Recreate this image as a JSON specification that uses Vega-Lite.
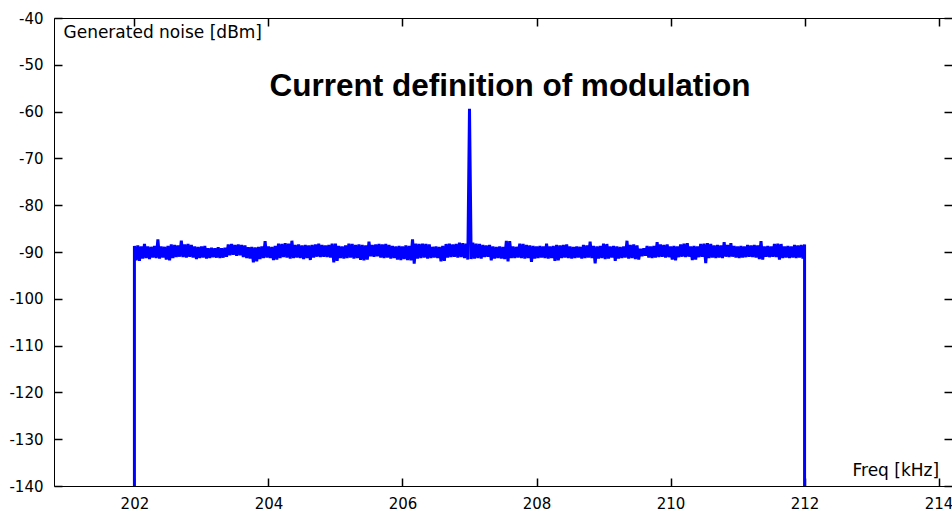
{
  "$schema": "https://vega.github.io/schema/vega-lite/v6.json",
  "width": 898,
  "height": 468,
  "autosize": {"type": "none"},
  "padding": {"left": 54, "top": 18, "right": 0, "bottom": 23},
  "background": "white",
  "config": {
    "view": {"stroke": "#000000", "strokeWidth": 1},
    "axis": {
      "grid": false,
      "domain": false,
      "tickColor": "#000000",
      "tickWidth": 1.5,
      "labelFont": "DejaVu Sans",
      "labelFontSize": 15,
      "labelColor": "#000000",
      "titleFont": "DejaVu Sans",
      "titleFontSize": 17,
      "titleFontWeight": "normal",
      "titleColor": "#000000",
      "zindex": 1
    }
  },
  "title": {
    "text": "Current definition of modulation",
    "font": "Liberation Sans",
    "fontSize": 31.5,
    "fontWeight": "bold",
    "color": "#000000",
    "anchor": "middle",
    "frame": "group",
    "baseline": "alphabetic",
    "offset": 0,
    "dy": 116,
    "dx": 7
  },
  "data": {"values": [
    {"f":202,"v":-150},
    {"f":202,"v":-88.7},{"f":202.025,"v":-91.8},
    {"f":202.05,"v":-88.6},{"f":202.075,"v":-91.9},
    {"f":202.1,"v":-88.8},{"f":202.125,"v":-91.4},
    {"f":202.15,"v":-88.3},{"f":202.175,"v":-91.3},
    {"f":202.2,"v":-88.8},{"f":202.225,"v":-91.5},
    {"f":202.25,"v":-88.9},{"f":202.275,"v":-91.2},
    {"f":202.3,"v":-88.7},{"f":202.325,"v":-91.3},
    {"f":202.35,"v":-87.3},{"f":202.375,"v":-91.4},
    {"f":202.4,"v":-88.8},{"f":202.425,"v":-91.2},
    {"f":202.45,"v":-88.9},{"f":202.475,"v":-91.6},
    {"f":202.5,"v":-88.7},{"f":202.525,"v":-91.8},
    {"f":202.55,"v":-88.4},{"f":202.575,"v":-91.3},
    {"f":202.6,"v":-88.5},{"f":202.625,"v":-91.1},
    {"f":202.65,"v":-88.6},{"f":202.675,"v":-91.0},
    {"f":202.7,"v":-87.6},{"f":202.725,"v":-91.1},
    {"f":202.75,"v":-88.4},{"f":202.775,"v":-91.2},
    {"f":202.8,"v":-88.3},{"f":202.825,"v":-91.0},
    {"f":202.85,"v":-88.5},{"f":202.875,"v":-91.2},
    {"f":202.9,"v":-88.8},{"f":202.925,"v":-91.5},
    {"f":202.95,"v":-88.9},{"f":202.975,"v":-91.3},
    {"f":203,"v":-88.8},{"f":203.025,"v":-91.2},
    {"f":203.05,"v":-88.7},{"f":203.075,"v":-91.4},
    {"f":203.1,"v":-89.2},{"f":203.125,"v":-91.3},
    {"f":203.15,"v":-89.1},{"f":203.175,"v":-91.1},
    {"f":203.2,"v":-89.2},{"f":203.225,"v":-91.2},
    {"f":203.25,"v":-89.0},{"f":203.275,"v":-91.3},
    {"f":203.3,"v":-89.2},{"f":203.325,"v":-91.2},
    {"f":203.35,"v":-89.1},{"f":203.375,"v":-91.0},
    {"f":203.4,"v":-88.4},{"f":203.425,"v":-90.7},
    {"f":203.45,"v":-88.3},{"f":203.475,"v":-90.6},
    {"f":203.5,"v":-88.5},{"f":203.525,"v":-90.8},
    {"f":203.55,"v":-88.4},{"f":203.575,"v":-90.7},
    {"f":203.6,"v":-88.5},{"f":203.625,"v":-91.1},
    {"f":203.65,"v":-88.6},{"f":203.675,"v":-91.3},
    {"f":203.7,"v":-89.0},{"f":203.725,"v":-91.4},
    {"f":203.75,"v":-88.9},{"f":203.775,"v":-92.2},
    {"f":203.8,"v":-89.0},{"f":203.825,"v":-92.0},
    {"f":203.85,"v":-88.9},{"f":203.875,"v":-91.5},
    {"f":203.9,"v":-88.8},{"f":203.925,"v":-91.3},
    {"f":203.95,"v":-87.7},{"f":203.975,"v":-91.2},
    {"f":204,"v":-88.8},{"f":204.025,"v":-91.3},
    {"f":204.05,"v":-88.9},{"f":204.075,"v":-91.7},
    {"f":204.1,"v":-88.7},{"f":204.125,"v":-91.6},
    {"f":204.15,"v":-88.2},{"f":204.175,"v":-91.3},
    {"f":204.2,"v":-88.3},{"f":204.225,"v":-91.1},
    {"f":204.25,"v":-88.1},{"f":204.275,"v":-91.2},
    {"f":204.3,"v":-88.2},{"f":204.325,"v":-91.4},
    {"f":204.35,"v":-87.6},{"f":204.375,"v":-91.3},
    {"f":204.4,"v":-88.5},{"f":204.425,"v":-91.2},
    {"f":204.45,"v":-88.4},{"f":204.475,"v":-91.3},
    {"f":204.5,"v":-88.6},{"f":204.525,"v":-91.5},
    {"f":204.55,"v":-88.5},{"f":204.575,"v":-91.3},
    {"f":204.6,"v":-88.6},{"f":204.625,"v":-91.7},
    {"f":204.65,"v":-88.5},{"f":204.675,"v":-91.2},
    {"f":204.7,"v":-88.4},{"f":204.725,"v":-91.0},
    {"f":204.75,"v":-88.2},{"f":204.775,"v":-91.1},
    {"f":204.8,"v":-88.5},{"f":204.825,"v":-91.0},
    {"f":204.85,"v":-88.6},{"f":204.875,"v":-91.1},
    {"f":204.9,"v":-88.5},{"f":204.925,"v":-91.2},
    {"f":204.95,"v":-88.2},{"f":204.975,"v":-92.2},
    {"f":205,"v":-88.2},{"f":205.025,"v":-91.9},
    {"f":205.05,"v":-88.7},{"f":205.075,"v":-91.3},
    {"f":205.1,"v":-88.8},{"f":205.125,"v":-91.4},
    {"f":205.15,"v":-88.6},{"f":205.175,"v":-91.3},
    {"f":205.2,"v":-88.2},{"f":205.225,"v":-91.2},
    {"f":205.25,"v":-88.3},{"f":205.275,"v":-91.4},
    {"f":205.3,"v":-88.5},{"f":205.325,"v":-91.3},
    {"f":205.35,"v":-88.4},{"f":205.375,"v":-91.7},
    {"f":205.4,"v":-88.5},{"f":205.425,"v":-91.8},
    {"f":205.45,"v":-88.6},{"f":205.475,"v":-91.6},
    {"f":205.5,"v":-87.8},{"f":205.525,"v":-90.9},
    {"f":205.55,"v":-88.5},{"f":205.575,"v":-91.0},
    {"f":205.6,"v":-88.4},{"f":205.625,"v":-90.9},
    {"f":205.65,"v":-88.3},{"f":205.675,"v":-91.2},
    {"f":205.7,"v":-88.4},{"f":205.725,"v":-91.3},
    {"f":205.75,"v":-88.3},{"f":205.775,"v":-91.2},
    {"f":205.8,"v":-88.5},{"f":205.825,"v":-91.4},
    {"f":205.85,"v":-88.7},{"f":205.875,"v":-91.3},
    {"f":205.9,"v":-88.8},{"f":205.925,"v":-91.6},
    {"f":205.95,"v":-88.7},{"f":205.975,"v":-91.7},
    {"f":206,"v":-88.8},{"f":206.025,"v":-91.5},
    {"f":206.05,"v":-88.6},{"f":206.075,"v":-91.7},
    {"f":206.1,"v":-88.7},{"f":206.125,"v":-91.8},
    {"f":206.15,"v":-87.3},{"f":206.175,"v":-92.5},
    {"f":206.2,"v":-88.2},{"f":206.225,"v":-91.4},
    {"f":206.25,"v":-88.3},{"f":206.275,"v":-91.3},
    {"f":206.3,"v":-88.2},{"f":206.325,"v":-91.2},
    {"f":206.35,"v":-88.3},{"f":206.375,"v":-91.4},
    {"f":206.4,"v":-88.4},{"f":206.425,"v":-91.3},
    {"f":206.45,"v":-88.9},{"f":206.475,"v":-91.2},
    {"f":206.5,"v":-88.8},{"f":206.525,"v":-91.3},
    {"f":206.55,"v":-88.9},{"f":206.575,"v":-92.0},
    {"f":206.6,"v":-88.7},{"f":206.625,"v":-91.9},
    {"f":206.65,"v":-88.3},{"f":206.675,"v":-91.2},
    {"f":206.7,"v":-88.2},{"f":206.725,"v":-91.1},
    {"f":206.75,"v":-88.4},{"f":206.775,"v":-91.0},
    {"f":206.8,"v":-88.3},{"f":206.825,"v":-91.2},
    {"f":206.85,"v":-88.0},{"f":206.875,"v":-91.1},
    {"f":206.9,"v":-88.1},{"f":206.925,"v":-91.3},
    {"f":206.95,"v":-88.2},{"f":206.975,"v":-91.6},
    {"f":207,"v":-59.4},{"f":207.025,"v":-91.5},
    {"f":207.05,"v":-88.0},{"f":207.075,"v":-91.4},
    {"f":207.1,"v":-88.2},{"f":207.125,"v":-91.3},
    {"f":207.15,"v":-88.3},{"f":207.175,"v":-91.4},
    {"f":207.2,"v":-88.5},{"f":207.225,"v":-91.1},
    {"f":207.25,"v":-88.6},{"f":207.275,"v":-91.0},
    {"f":207.3,"v":-88.5},{"f":207.325,"v":-91.8},
    {"f":207.35,"v":-88.8},{"f":207.375,"v":-91.4},
    {"f":207.4,"v":-88.9},{"f":207.425,"v":-91.3},
    {"f":207.45,"v":-88.8},{"f":207.475,"v":-91.4},
    {"f":207.5,"v":-88.9},{"f":207.525,"v":-91.5},
    {"f":207.55,"v":-87.6},{"f":207.575,"v":-92.0},
    {"f":207.6,"v":-87.7},{"f":207.625,"v":-91.3},
    {"f":207.65,"v":-88.8},{"f":207.675,"v":-91.3},
    {"f":207.7,"v":-88.9},{"f":207.725,"v":-91.2},
    {"f":207.75,"v":-88.2},{"f":207.775,"v":-91.3},
    {"f":207.8,"v":-88.3},{"f":207.825,"v":-91.4},
    {"f":207.85,"v":-88.5},{"f":207.875,"v":-91.3},
    {"f":207.9,"v":-88.6},{"f":207.925,"v":-92.1},
    {"f":207.95,"v":-88.7},{"f":207.975,"v":-91.4},
    {"f":208,"v":-88.8},{"f":208.025,"v":-91.3},
    {"f":208.05,"v":-88.7},{"f":208.075,"v":-91.2},
    {"f":208.1,"v":-88.8},{"f":208.125,"v":-91.3},
    {"f":208.15,"v":-88.2},{"f":208.175,"v":-91.4},
    {"f":208.2,"v":-88.8},{"f":208.225,"v":-91.3},
    {"f":208.25,"v":-88.7},{"f":208.275,"v":-91.9},
    {"f":208.3,"v":-88.5},{"f":208.325,"v":-91.8},
    {"f":208.35,"v":-88.6},{"f":208.375,"v":-91.3},
    {"f":208.4,"v":-88.5},{"f":208.425,"v":-91.2},
    {"f":208.45,"v":-88.4},{"f":208.475,"v":-91.3},
    {"f":208.5,"v":-88.8},{"f":208.525,"v":-91.4},
    {"f":208.55,"v":-88.9},{"f":208.575,"v":-91.3},
    {"f":208.6,"v":-88.8},{"f":208.625,"v":-91.2},
    {"f":208.65,"v":-88.9},{"f":208.675,"v":-91.4},
    {"f":208.7,"v":-88.5},{"f":208.725,"v":-91.3},
    {"f":208.75,"v":-88.6},{"f":208.775,"v":-91.2},
    {"f":208.8,"v":-87.8},{"f":208.825,"v":-91.3},
    {"f":208.85,"v":-88.7},{"f":208.875,"v":-92.4},
    {"f":208.9,"v":-88.8},{"f":208.925,"v":-91.4},
    {"f":208.95,"v":-88.7},{"f":208.975,"v":-91.3},
    {"f":209,"v":-88.2},{"f":209.025,"v":-91.5},
    {"f":209.05,"v":-88.3},{"f":209.075,"v":-91.4},
    {"f":209.1,"v":-88.8},{"f":209.125,"v":-91.2},
    {"f":209.15,"v":-88.7},{"f":209.175,"v":-91.9},
    {"f":209.2,"v":-88.8},{"f":209.225,"v":-91.4},
    {"f":209.25,"v":-88.9},{"f":209.275,"v":-91.3},
    {"f":209.3,"v":-88.8},{"f":209.325,"v":-91.2},
    {"f":209.35,"v":-87.6},{"f":209.375,"v":-91.4},
    {"f":209.4,"v":-88.5},{"f":209.425,"v":-91.3},
    {"f":209.45,"v":-88.4},{"f":209.475,"v":-91.5},
    {"f":209.5,"v":-88.6},{"f":209.525,"v":-91.6},
    {"f":209.55,"v":-89.3},{"f":209.575,"v":-90.9},
    {"f":209.6,"v":-89.2},{"f":209.625,"v":-90.8},
    {"f":209.65,"v":-88.7},{"f":209.675,"v":-91.2},
    {"f":209.7,"v":-88.8},{"f":209.725,"v":-91.3},
    {"f":209.75,"v":-88.7},{"f":209.775,"v":-91.2},
    {"f":209.8,"v":-87.9},{"f":209.825,"v":-91.1},
    {"f":209.85,"v":-88.4},{"f":209.875,"v":-91.0},
    {"f":209.9,"v":-88.5},{"f":209.925,"v":-91.2},
    {"f":209.95,"v":-88.4},{"f":209.975,"v":-91.1},
    {"f":210,"v":-88.8},{"f":210.025,"v":-91.6},
    {"f":210.05,"v":-88.7},{"f":210.075,"v":-91.8},
    {"f":210.1,"v":-88.8},{"f":210.125,"v":-91.1},
    {"f":210.15,"v":-88.4},{"f":210.175,"v":-91.0},
    {"f":210.2,"v":-88.2},{"f":210.225,"v":-91.1},
    {"f":210.25,"v":-88.1},{"f":210.275,"v":-91.0},
    {"f":210.3,"v":-88.8},{"f":210.325,"v":-91.7},
    {"f":210.35,"v":-88.7},{"f":210.375,"v":-91.6},
    {"f":210.4,"v":-88.8},{"f":210.425,"v":-91.1},
    {"f":210.45,"v":-88.3},{"f":210.475,"v":-91.0},
    {"f":210.5,"v":-88.2},{"f":210.525,"v":-92.4},
    {"f":210.55,"v":-88.1},{"f":210.575,"v":-91.3},
    {"f":210.6,"v":-88.3},{"f":210.625,"v":-91.2},
    {"f":210.65,"v":-88.6},{"f":210.675,"v":-91.3},
    {"f":210.7,"v":-88.5},{"f":210.725,"v":-91.2},
    {"f":210.75,"v":-88.6},{"f":210.775,"v":-91.3},
    {"f":210.8,"v":-87.9},{"f":210.825,"v":-91.0},
    {"f":210.85,"v":-88.5},{"f":210.875,"v":-91.1},
    {"f":210.9,"v":-88.1},{"f":210.925,"v":-91.0},
    {"f":210.95,"v":-88.7},{"f":210.975,"v":-91.2},
    {"f":211,"v":-88.8},{"f":211.025,"v":-91.3},
    {"f":211.05,"v":-88.7},{"f":211.075,"v":-91.2},
    {"f":211.1,"v":-88.8},{"f":211.125,"v":-91.1},
    {"f":211.15,"v":-88.5},{"f":211.175,"v":-91.0},
    {"f":211.2,"v":-88.6},{"f":211.225,"v":-91.1},
    {"f":211.25,"v":-88.5},{"f":211.275,"v":-91.2},
    {"f":211.3,"v":-88.6},{"f":211.325,"v":-91.5},
    {"f":211.35,"v":-87.7},{"f":211.375,"v":-91.6},
    {"f":211.4,"v":-88.8},{"f":211.425,"v":-91.0},
    {"f":211.45,"v":-88.7},{"f":211.475,"v":-91.1},
    {"f":211.5,"v":-88.8},{"f":211.525,"v":-91.0},
    {"f":211.55,"v":-88.3},{"f":211.575,"v":-91.1},
    {"f":211.6,"v":-88.2},{"f":211.625,"v":-91.6},
    {"f":211.65,"v":-88.3},{"f":211.675,"v":-91.3},
    {"f":211.7,"v":-88.8},{"f":211.725,"v":-91.2},
    {"f":211.75,"v":-88.7},{"f":211.775,"v":-91.3},
    {"f":211.8,"v":-88.8},{"f":211.825,"v":-91.2},
    {"f":211.85,"v":-88.5},{"f":211.875,"v":-91.3},
    {"f":211.9,"v":-88.6},{"f":211.925,"v":-91.2},
    {"f":211.95,"v":-88.5},{"f":211.975,"v":-91.4},
    {"f":212,"v":-88.4},
    {"f":212,"v":-150}
  ]},
  "layer": [
    {
      "mark": {"type": "line", "color": "#0000ff", "strokeWidth": 3, "strokeJoin": "bevel", "clip": true},
      "encoding": {
        "x": {
          "field": "f", "type": "quantitative",
          "scale": {"domain": [200.8, 214.2], "nice": false, "zero": false},
          "axis": {
            "orient": "bottom",
            "values": [202, 204, 206, 208, 210, 212, 214],
            "tickSize": -8,
            "labelPadding": 18,
            "labelBaseline": "top",
            "labelFlush": false,
            "labelExpr": "'' + datum.value",
            "title": "Freq [kHz]",
            "titleX": 798,
            "titleY": -11,
            "titleAlign": "left",
            "titleBaseline": "alphabetic",
            "titleAnchor": null
          }
        },
        "y": {
          "field": "v", "type": "quantitative",
          "scale": {"domain": [-140, -40], "nice": false, "zero": false},
          "axis": {
            "orient": "left",
            "values": [-140, -130, -120, -110, -100, -90, -80, -70, -60, -50, -40],
            "tickSize": -8,
            "labelPadding": 19,
            "labelFlush": false,
            "labelExpr": "'' + datum.value",
            "title": "Generated noise [dBm]",
            "titleAngle": 0,
            "titleX": 9,
            "titleY": 19,
            "titleAlign": "left",
            "titleBaseline": "alphabetic",
            "titleAnchor": null
          }
        },
        "order": {"value": null}
      }
    },
    {
      "mark": {"type": "point", "opacity": 0},
      "encoding": {
        "x": {
          "field": "f", "type": "quantitative",
          "axis": {"orient": "top", "offset": -8, "tickSize": 8, "values": [202, 204, 206, 208, 210, 212, 214], "labels": false, "title": null}
        },
        "y": {
          "field": "v", "type": "quantitative",
          "axis": {"orient": "right", "offset": -8, "tickSize": 8, "values": [-140, -130, -120, -110, -100, -90, -80, -70, -60, -50, -40], "labels": false, "title": null}
        }
      }
    }
  ],
  "resolve": {"axis": {"x": "independent", "y": "independent"}}
}
